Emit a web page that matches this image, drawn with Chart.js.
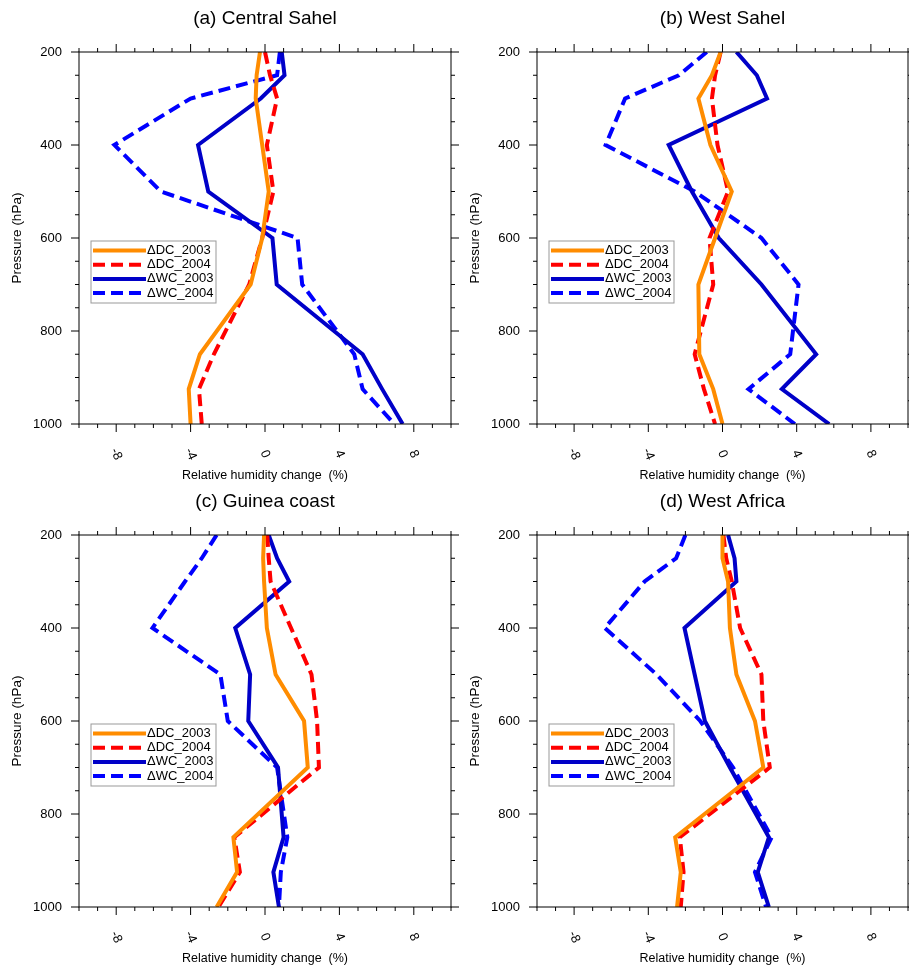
<!DOCTYPE html>
<html>
<head>
<meta charset="utf-8">
<script src="https://cdn.jsdelivr.net/npm/chart.js@4.4.1/dist/chart.umd.min.js"></script>
<style>
  body { margin: 0; background: #fff; width: 909px; height: 966px; position: relative; overflow: hidden; }
  .box { position: absolute; }
</style>
</head>
<body>
<div class="box" style="left:0;top:0;width:460px;height:483px"><canvas id="c1"></canvas></div>
<div class="box" style="left:460px;top:0;width:449px;height:483px"><canvas id="c2"></canvas></div>
<div class="box" style="left:0;top:483px;width:460px;height:483px"><canvas id="c3"></canvas></div>
<div class="box" style="left:460px;top:483px;width:449px;height:483px"><canvas id="c4"></canvas></div>
<script>
const levels = [200, 250, 300, 400, 500, 600, 700, 850, 925, 1000];
const xTicks = [-8, -4, 0, 4, 8];
const yTicks = [200, 400, 600, 800, 1000];
const seriesNames = ['\u0394DC_2003', '\u0394DC_2004', '\u0394WC_2003', '\u0394WC_2004'];

// (a) Central Sahel
const sahelC_dc03 = [-0.27, -0.45, -0.5, -0.15, 0.2, -0.15, -0.77, -3.5, -4.1, -4.0];
const sahelC_dc04 = [0, 0.27, 0.65, 0.1, 0.45, -0.15, -0.85, -2.75, -3.55, -3.4];
const sahelC_wc03 = [0.9, 1.05, -0.23, -3.6, -3.05, 0.4, 0.63, 5.25, 6.3, 7.4];
const sahelC_wc04 = [0.8, 0.65, -4.0, -8.1, -5.6, 1.75, 2.0, 4.8, 5.25, 6.95];
// (b) West Sahel
const sahelW_dc03 = [-0.1, -0.57, -1.3, -0.65, 0.5, -0.4, -1.3, -1.25, -0.5, 0];
const sahelW_dc04 = [-0.1, -0.4, -0.57, -0.27, 0.3, -0.7, -0.5, -1.5, -1.0, -0.4];
const sahelW_wc03 = [0.75, 1.85, 2.4, -2.9, -1.65, -0.2, 2.1, 5.05, 3.2, 5.75];
const sahelW_wc04 = [-0.85, -2.35, -5.25, -6.3, -1.5, 2.1, 4.1, 3.65, 1.4, 3.9];
// (c) Guinea coast
const guinea_dc03 = [-0.05, -0.1, -0.05, 0.1, 0.57, 2.1, 2.3, -1.7, -1.5, -2.6];
const guinea_dc04 = [0.12, 0.2, 0.3, 1.4, 2.5, 2.8, 2.9, -1.65, -1.35, -2.5];
const guinea_wc03 = [0.2, 0.65, 1.3, -1.6, -0.8, -0.9, 0.7, 1.0, 0.45, 0.75];
const guinea_wc04 = [-2.6, -3.4, -4.3, -6.05, -2.4, -2.0, 0.65, 1.2, 0.85, 0.75];
// (d) West Africa
const wafr_dc03 = [0, 0, 0.3, 0.4, 0.75, 1.75, 2.2, -2.55, -2.25, -2.45];
const wafr_dc04 = [0.05, 0.2, 0.5, 0.95, 2.1, 2.2, 2.55, -2.3, -2.1, -2.25];
const wafr_wc03 = [0.3, 0.65, 0.75, -2.05, -1.5, -0.95, 0.4, 2.5, 1.9, 2.5];
const wafr_wc04 = [-2.0, -2.5, -4.2, -6.35, -3.55, -1.2, 0.57, 2.65, 1.75, 2.35];

const styles = [
  { color: '#FF8C00', dash: [] },
  { color: '#FF0000', dash: [12, 6] },
  { color: '#0000C8', dash: [] },
  { color: '#0000FF', dash: [12, 6] }
];
const FONT = '"Liberation Sans", Arial, sans-serif';

const framePlugin = {
  id: 'frame',
  afterDraw(chart, args, opts) {
    const ctx = chart.ctx, a = chart.chartArea;
    const xs = chart.scales.x, ys = chart.scales.y;
    ctx.save();
    ctx.strokeStyle = '#000';
    ctx.lineWidth = 1;
    ctx.setLineDash([]);
    ctx.strokeRect(a.left, a.top, a.right - a.left, a.bottom - a.top);
    ctx.beginPath();
    for (let v = -10; v <= 10; v++) {
      const px = xs.getPixelForValue(v);
      const len = xTicks.includes(v) ? 8 : 4;
      ctx.moveTo(px, a.top); ctx.lineTo(px, a.top - len);
      ctx.moveTo(px, a.bottom); ctx.lineTo(px, a.bottom + len);
    }
    for (let p = 200; p <= 1000; p += 50) {
      const py = ys.getPixelForValue(p);
      const len = yTicks.includes(p) ? 8 : 4;
      ctx.moveTo(a.left, py); ctx.lineTo(a.left - len, py);
      ctx.moveTo(a.right, py); ctx.lineTo(a.right + len, py);
    }
    ctx.stroke();

    ctx.fillStyle = '#000';
    ctx.font = '13px ' + FONT;
    ctx.textAlign = 'right';
    ctx.textBaseline = 'middle';
    yTicks.forEach(p => ctx.fillText(String(p), a.left - 17, ys.getPixelForValue(p)));

    xTicks.forEach(v => {
      ctx.save();
      ctx.translate(xs.getPixelForValue(v), a.bottom + 30);
      ctx.rotate(1.15);
      ctx.textAlign = 'center';
      ctx.fillText(String(v), 0, 0);
      ctx.restore();
    });

    ctx.textAlign = 'center';
    ctx.font = '12.5px ' + FONT;
    ctx.fillText('Relative humidity change  (%)', (a.left + a.right) / 2, a.bottom + 52);
    ctx.save();
    ctx.translate(a.left - 62, (a.top + a.bottom) / 2);
    ctx.rotate(-Math.PI / 2);
    ctx.font = '13.5px ' + FONT;
    ctx.fillText('Pressure (hPa)', 0, 0);
    ctx.restore();

    ctx.font = '19px ' + FONT;
    ctx.fillText(opts.title, (a.left + a.right) / 2, a.top - 33);

    // legend
    const lx = a.left + 12, ly = a.top + 189, lw = 125, lh = 62;
    ctx.strokeStyle = '#999';
    ctx.lineWidth = 1;
    ctx.strokeRect(lx, ly, lw, lh);
    ctx.font = '13px ' + FONT;
    ctx.textAlign = 'left';
    seriesNames.forEach((name, i) => {
      const yy = ly + 9.5 + i * 14.2;
      ctx.strokeStyle = styles[i].color;
      ctx.lineWidth = 4;
      ctx.setLineDash(styles[i].dash);
      ctx.beginPath();
      ctx.moveTo(lx + 2, yy); ctx.lineTo(lx + 55, yy);
      ctx.stroke();
      ctx.fillStyle = '#000';
      ctx.fillText(name, lx + 56, yy);
    });
    ctx.restore();
  }
};

function makePanel(id, title, series, yWidth, rightPad) {
  new Chart(document.getElementById(id), {
    type: 'line',
    data: {
      datasets: series.map((vals, i) => ({
        label: seriesNames[i],
        data: vals.map((v, k) => ({ x: v, y: levels[k] })),
        borderColor: styles[i].color,
        borderDash: styles[i].dash,
        borderWidth: 4,
        pointRadius: 0,
        tension: 0,
        fill: false
      }))
    },
    options: {
      responsive: true,
      maintainAspectRatio: false,
      animation: false,
      layout: { padding: { top: 52, right: rightPad, left: 0, bottom: 0 } },
      plugins: { legend: { display: false }, tooltip: { enabled: false }, frame: { title: title } },
      scales: {
        x: {
          type: 'linear', min: -10, max: 10,
          grid: { display: false }, border: { display: false },
          ticks: { display: false },
          afterFit: s => { s.height = 59; }
        },
        y: {
          type: 'linear', min: 200, max: 1000, reverse: true,
          grid: { display: false }, border: { display: false },
          ticks: { display: false },
          afterFit: s => { s.width = yWidth; }
        }
      }
    },
    plugins: [framePlugin]
  });
}

makePanel('c1', '(a) Central Sahel', [sahelC_dc03, sahelC_dc04, sahelC_wc03, sahelC_wc04], 79, 9);
makePanel('c2', '(b) West Sahel', [sahelW_dc03, sahelW_dc04, sahelW_wc03, sahelW_wc04], 77, 1);
makePanel('c3', '(c) Guinea coast', [guinea_dc03, guinea_dc04, guinea_wc03, guinea_wc04], 79, 9);
makePanel('c4', '(d) West Africa', [wafr_dc03, wafr_dc04, wafr_wc03, wafr_wc04], 77, 1);
</script>
</body>
</html>
